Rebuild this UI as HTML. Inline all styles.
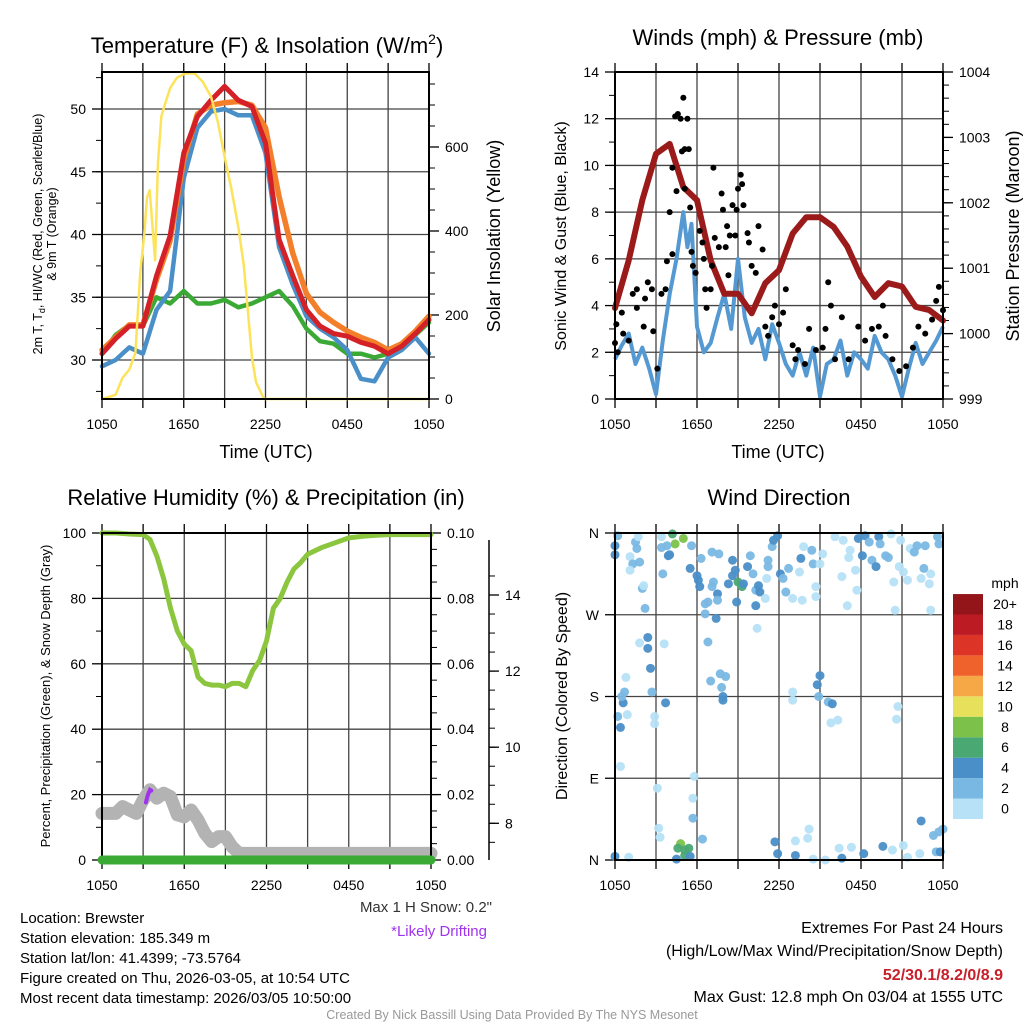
<!DOCTYPE html>
<html><head><meta charset="utf-8"><style>
html,body{margin:0;padding:0;background:#fff}
svg{display:block;font-family:"Liberation Sans",Arial,sans-serif}
</style></head><body>
<svg id="c" width="1024" height="1024" viewBox="0 0 1024 1024">
<rect width="1024" height="1024" fill="#fff"/>
<g id="g1"></g><g id="g2"></g><g id="g3"></g><g id="g4"></g>
<text x="267" y="53" font-size="22" text-anchor="middle">Temperature (F) &amp; Insolation (W/m<tspan font-size="14" dy="-9">2</tspan><tspan dy="9">)</tspan></text>
<text x="778" y="45" font-size="22" text-anchor="middle">Winds (mph) &amp; Pressure (mb)</text>
<text x="266" y="505" font-size="22" text-anchor="middle">Relative Humidity (%) &amp; Precipitation (in)</text>
<text x="779" y="505" font-size="22" text-anchor="middle">Wind Direction</text>
<text x="266" y="458" font-size="18" text-anchor="middle">Time (UTC)</text>
<text x="778" y="458" font-size="18" text-anchor="middle">Time (UTC)</text>
<text transform="translate(42,234) rotate(-90)" font-size="12.5" text-anchor="middle">2m T, T<tspan font-size="9" dy="3">d</tspan><tspan dy="-3">, HI/WC (Red, Green, Scarlet/Blue)</tspan></text>
<text transform="translate(56,234) rotate(-90)" font-size="12.5" text-anchor="middle">&amp; 9m T (Orange)</text>
<text transform="translate(500,236) rotate(-90)" font-size="18" text-anchor="middle">Solar Insolation (Yellow)</text>
<text transform="translate(566,236) rotate(-90)" font-size="16" text-anchor="middle">Sonic Wind &amp; Gust (Blue, Black)</text>
<text transform="translate(1019,236) rotate(-90)" font-size="18" text-anchor="middle">Station Pressure (Maroon)</text>
<text transform="translate(50,696) rotate(-90)" font-size="13" text-anchor="middle">Percent, Precipitation (Green), &amp; Snow Depth (Gray)</text>
<text transform="translate(567,696) rotate(-90)" font-size="16" text-anchor="middle">Direction (Colored By Speed)</text>
<text x="1005" y="588" font-size="14" text-anchor="middle">mph</text>
<text x="492" y="912" font-size="15" fill="#333" text-anchor="end">Max 1 H Snow: 0.2"</text>
<text x="487" y="936" font-size="15" fill="#a033ee" text-anchor="end">*Likely Drifting</text>
<g font-size="15">
<text x="20" y="923">Location: Brewster</text>
<text x="20" y="943">Station elevation: 185.349 m</text>
<text x="20" y="963">Station lat/lon: 41.4399; -73.5764</text>
<text x="20" y="983">Figure created on Thu, 2026-03-05, at 10:54 UTC</text>
<text x="20" y="1003">Most recent data timestamp: 2026/03/05 10:50:00</text>
</g>
<g font-size="16" text-anchor="end">
<text x="1003" y="933">Extremes For Past 24 Hours</text>
<text x="1003" y="956">(High/Low/Max Wind/Precipitation/Snow Depth)</text>
<text x="1003" y="980" fill="#c8202a" font-weight="bold">52/30.1/8.2/0/8.9</text>
<text x="1003" y="1002">Max Gust: 12.8 mph On 03/04 at 1555 UTC</text>
</g>
<text x="512" y="1019" font-size="12.5" fill="#999" text-anchor="middle">Created By Nick Bassill Using Data Provided By The NYS Mesonet</text>
</svg>
<script>
// ---------- DATA ----------
const hours = [0,1,2,3,4,5,6,7,8,9,10,11,12,13,14,15,16,17,18,19,20,21,22,23,24];
const tempRed = [30.5,31.7,32.7,32.7,36.7,39.9,46.5,49.4,50.7,51.8,50.7,50.2,47.3,39.6,36.7,34,32.7,32.1,31.9,31.4,31.1,30.5,31.1,32.1,33.2];
const temp9m = [30.8,31.8,32.8,32.8,36.4,39.5,46,49.6,50.3,50.5,50.6,50.3,48.5,43,38.5,35.3,33.8,33,32.3,31.8,31.4,30.8,31.3,32.3,33.5];
const windChill = [29.5,30,31,30.5,34,35.5,44.5,48.5,49.8,50,49.5,49.5,46.5,39,36,33.5,32.5,31.8,30.8,28.5,28.3,30.2,30.8,31.8,30.5];
const dewPoint = [30.5,32,32.8,32.7,35,34.5,35.5,34.5,34.5,34.8,34.2,34.5,35,35.5,34.3,32.5,31.5,31.3,30.5,30.5,30.2,30.5,31,32,33];
const solarHours = [0,1,1.5,2,2.45,2.8,3.1,3.3,3.5,3.9,4.1,4.35,4.6,5,5.5,6.1,6.8,7.4,8,8.5,9,9.5,10,10.4,10.7,11,11.3,11.9,24];
const solar = [0,10,50,70,110,300,390,480,497,330,560,672,700,740,765,775,775,755,720,660,577,500,410,320,212,100,40,0,0];
const windHours = [0,0.5,1,1.5,2,2.5,3,3.5,4,4.5,5,5.3,5.6,6,6.5,7,7.5,8,8.5,9,9.5,10,10.5,11,11.5,12,12.5,13,13.5,14,14.5,15,15.5,16,16.5,17,17.5,18,18.5,19,19.5,20,20.5,21,21.5,22,22.5,23,23.5,24];
const windSpeed = [1.7,2.3,2.8,1.5,2.2,1.3,0.2,2.5,4.5,6.0,8.0,6.5,7.5,3.1,2.0,2.4,3.5,4.5,3.0,6.0,3.5,2.4,3.0,1.7,3.2,2.4,1.5,1.0,2.0,1.0,2.2,0.1,1.5,1.7,2.5,1.0,2.0,1.7,1.3,2.7,2.0,1.7,1.0,0.1,1.3,2.4,1.5,2.0,2.5,3.1];
const pressure = [1000.39,1001.12,1002.04,1002.75,1002.9,1002.24,1002.04,1001.12,1000.61,1000.61,1000.31,1000.77,1000.97,1001.53,1001.78,1001.78,1001.63,1001.33,1000.87,1000.56,1000.77,1000.72,1000.41,1000.36,1000.2];
const gustHours = [0.0,0.1,0.2,0.5,0.6,1.0,1.3,1.6,1.6,2.1,2.2,2.4,2.7,2.8,3.1,3.4,3.7,3.8,4.0,4.2,4.2,4.4,4.5,4.6,4.8,4.9,5.0,5.1,5.3,5.4,5.1,5.5,5.6,5.7,5.9,6.2,6.4,6.5,6.6,6.7,7.0,7.1,7.2,7.3,7.6,7.8,7.9,8.1,8.2,8.3,8.4,8.6,8.8,8.9,9.0,9.2,9.3,9.4,9.7,9.8,10.0,10.3,10.5,10.8,11.0,11.2,11.5,11.7,12.0,12.3,12.5,13.0,13.2,13.4,13.9,14.2,14.7,15.2,15.4,15.6,15.8,16.1,16.6,17.1,17.8,18.3,18.8,19.3,19.6,19.8,20.3,20.8,21.3,21.8,22.2,22.7,23.2,23.5,23.7,24.0];
const gustSpeed = [2.4,3.2,2.0,3.7,2.8,2.5,4.5,4.7,3.9,3.1,4.3,5.0,4.7,2.9,1.3,4.5,4.7,5.9,8.0,6.2,9.9,12.1,8.9,12.2,12.0,10.6,12.9,10.7,12.0,10.7,9.0,8.2,6.3,5.7,5.4,7.2,6.7,6.0,4.7,3.9,4.7,5.7,9.9,6.9,6.5,8.8,8.1,6.5,7.4,5.3,7.0,8.3,7.0,8.1,9.0,9.6,9.2,8.3,7.1,6.7,5.7,5.4,7.4,6.4,3.1,2.7,3.5,4.0,3.2,3.7,4.7,2.3,1.7,2.1,1.5,3.0,2.1,2.2,3.0,5.0,4.0,1.7,3.5,1.7,3.1,2.5,3.0,3.1,4.0,2.7,1.7,1.2,1.4,2.2,3.1,2.8,3.4,4.2,4.8,3.8];
const rhHours = [0,1,2,3,3.5,4,4.5,5,5.5,6,6.5,7,7.5,8,8.5,9,9.5,10,10.5,11,11.5,12,12.5,13,13.5,14,14.5,15,16,17,18,19,20,21,22,23,24];
const rh = [100,100,99.7,99.5,98,93,86,77,70,66,64,56,54,53.5,53.5,53,54,54,53,58,61,67,77,80,85,89,91,93.5,95.5,97,98.5,99,99.3,99.5,99.5,99.5,99.5];
const precipHours = [0,24];
const precip = [0,0];
const snowHours = [0,1,1.5,2,2.5,3,3.5,4,4.5,5,5.5,6,6.5,7,7.5,8,8.5,9,9.5,10,12,16,20,24];
const snowDepth = [8.26,8.26,8.44,8.35,8.26,8.61,8.88,8.66,8.79,8.70,8.22,8.17,8.35,8.09,7.74,7.52,7.65,7.65,7.38,7.21,7.21,7.21,7.21,7.21];
const driftHours = [3.2,3.35,3.5,3.6];
const driftDepth = [8.55,8.75,8.88,8.86];
const dirHours = [0.2,0,0,1.1,1.3,1.5,1.6,1.1,1.8,1.7,2.0,2.1,2.2,3.4,3.4,3.8,3.9,4.0,3.5,4.2,4.4,5.0,5.6,5.5,6.0,6.1,6.2,6.3,6.6,6.8,7.1,7.1,7.2,7.5,7.5,7.6,7.4,6.6,8.3,8.6,8.8,8.6,9.0,9.3,9.4,8.9,9.7,9.9,10.1,10.3,10.5,10.6,10.3,11.0,11.1,11.2,11.2,11.5,11.6,11.9,12.1,12.3,12.5,12.7,13.0,13.5,13.7,13.6,13.8,14.4,14.5,14.7,14.7,15.2,15.0,16.1,16.7,16.6,17.1,17.2,17.0,17.6,17.7,17.8,18.1,18.3,18.6,18.8,19.1,19.3,19.4,19.8,20.0,20.2,20.4,20.5,20.8,20.9,21.1,21.4,21.6,21.9,22.1,22.4,22.6,22.7,23.0,23.1,23.1,23.7,23.6,0,1.0,0.4,0.2,0.4,0.9,0.6,0.7,0.5,0.8,2.6,2.7,2.4,2.4,1.8,2.9,2.9,3.7,3.6,3.1,3.2,3.3,4.8,4.6,5.1,5.4,5.1,4.5,5.5,5.7,5.7,5.8,6.4,6.8,7.0,7.7,8.1,7.8,7.9,7.9,11.9,11.7,13.2,13.2,14.2,14.1,14.5,15.4,16.6,16.4,17.3,18.2,19.6,20.3,21.1,21.4,22.3,22.4,23.3,23.7,24.0,23.5,23.8,15.0,14.8,14.9,15.6,15.9,15.8,16.3,13.0,13.0,20.7,20.6,10.4];
const dirDeg = [357,346,336,334,326,350,343,319,328,356,299,302,277,356,344,346,335,336,315,359,348,354,346,321,313,308,301,332,282,284,339,301,306,293,286,337,266,271,304,313,319,330,306,301,304,284,323,335,315,297,302,295,280,288,310,330,323,345,352,357,315,310,295,321,288,317,286,332,345,341,326,301,290,337,326,356,352,312,333,341,280,319,297,354,335,357,350,330,323,356,348,335,333,359,306,275,323,352,317,308,343,339,346,310,321,346,304,275,315,348,356,4,3,103,158,146,160,173,185,180,201,211,185,233,245,239,158,150,173,238,79,35,25,18,13,11,13,5,1,4,46,68,92,23,240,197,205,202,190,180,176,7,20,5,21,34,24,1,0,2,13,14,7,15,11,16,3,7,43,27,31,34,9,9,203,193,180,174,172,151,154,185,176,169,155,255];
const dirSpeed = [3,5,5,1,3,3,3,1,3,1,3,1,3,1,3,3,5,5,3,7,9,9,3,5,5,5,5,3,3,3,3,3,3,5,3,3,5,3,5,5,5,5,7,7,5,5,5,3,3,3,5,5,5,1,1,3,3,3,5,5,5,3,3,3,1,1,1,5,1,3,3,1,1,1,1,1,1,1,1,1,1,1,1,5,5,5,3,3,5,5,3,3,3,1,1,1,1,1,1,1,1,3,3,1,3,3,1,1,1,3,3,5,1,1,3,5,1,5,3,3,1,5,3,5,5,1,1,1,5,1,1,1,1,9,7,7,7,7,5,5,3,1,1,3,3,3,3,3,3,5,5,5,5,5,1,1,1,1,1,5,1,1,5,5,1,1,1,1,5,3,3,3,3,5,5,5,3,3,5,1,1,1,1,1,1,1];
const tempTicks = [30,35,40,45,50];
const solarTicks = [0,200,400,600];
const timeLabels = ["1050","1650","2250","0450","1050"];
const windTicks = [0,2,4,6,8,10,12,14];
const pressTicks = [999,1000,1001,1002,1003,1004];
const rhTicks = [0,20,40,60,80,100];
const precipTicks = ["0.00","0.02","0.04","0.06","0.08","0.10"];
const snowTicks = [8,10,12,14];
const dirLabels = ["N","E","S","W","N"];
const cbLabels = ["0","2","4","6","8","10","12","14","16","18","20+"];
const cbColors = ["#b6e1f7","#7ab8e4","#4a8fc8","#4aa872","#7cc24a","#e6e05a","#f5a845","#f0622b","#dd3428","#bc1b24","#941519"];

// ---------- HELPERS ----------
const NS="http://www.w3.org/2000/svg";
function mk(tag,parent,attrs){const e=document.createElementNS(NS,tag);for(const k in attrs)e.setAttribute(k,attrs[k]);parent.appendChild(e);return e;}
function path(xs,ys,sx,sy){return xs.map((v,i)=>(i?"L":"M")+sx(v).toFixed(1)+","+sy(ys[i]).toFixed(1)).join("");}
function speedColor(s){if(s===undefined||isNaN(s))s=1;let i=Math.max(0,Math.min(10,Math.floor(s/2)));return cbColors[i];}

const P1={l:102,r:429,t:72,b:399}, P2={l:615,r:943,t:72,b:399}, P3={l:102,r:431,t:533,b:860}, P4={l:615,r:943,t:533,b:860};
function xs(P){return t=>P.l+t*(P.r-P.l)/24;}
function lin(d0,d1,p0,p1){return v=>p0+(v-d0)*(p1-p0)/(d1-d0);}

function frame(g,P,hl){
  for(let i=1;i<8;i++){const x=P.l+i*(P.r-P.l)/8;
    const gl=mk("line",g,{x1:x,x2:x,y1:P.t,y2:P.b,stroke:"#444","stroke-width":1.3});
    
    }
  hl.forEach(y=>{const gl=mk("line",g,{x1:P.l,x2:P.r,y1:y,y2:y,stroke:"#444","stroke-width":1.3});
    
    });
  for(let i=0;i<=8;i++){const x=P.l+i*(P.r-P.l)/8;
    mk("line",g,{x1:x,x2:x,y1:P.b,y2:P.b+9,stroke:"#000","stroke-width":1.3});
    mk("line",g,{x1:x,x2:x,y1:P.t-9,y2:P.t,stroke:"#000","stroke-width":1.3});}
  timeLabels.forEach((s,i)=>{const t=mk("text",g,{x:P.l+i*(P.r-P.l)/4,y:P.b+30,"font-size":14,"text-anchor":"middle"});t.textContent=s;
    
    });
}
function border(g,P){const r=mk("rect",g,{x:P.l,y:P.t,width:P.r-P.l,height:P.b-P.t,fill:"none",stroke:"#000","stroke-width":2});
  
  }
function yTicks(g,x,side,vals,sy,labels,minor){
  minor.forEach(v=>mk("line",g,{x1:x,x2:x+side*6,y1:sy(v),y2:sy(v),stroke:"#000","stroke-width":1}));
  vals.forEach((v,i)=>{mk("line",g,{x1:x,x2:x+side*10,y1:sy(v),y2:sy(v),stroke:"#000","stroke-width":1.3});
    const t=mk("text",g,{x:x+side*16,y:sy(v)+5,"font-size":14,"text-anchor":side<0?"end":"start"});t.textContent=labels[i];
    
    });
}
function range(a,b,s){const o=[];for(let v=a;v<=b+1e-9;v+=s)o.push(+v.toFixed(3));return o;}

// ---------- PANEL 1 ----------
(function(){const g=document.getElementById("g1");const X=xs(P1);
 const Y=lin(30,50,360,109), S=lin(0,600,399,147);
 frame(g,P1,tempTicks.map(Y));
 yTicks(g,P1.l,-1,tempTicks,Y,tempTicks.map(String),range(27.5,52.5,2.5));
 yTicks(g,P1.r,1,solarTicks,S,solarTicks.map(String),range(50,750,50));
 const defs=[[dewPoint,"#3aaa35",4.5,"dewpoint-line"],[windChill,"#4a8fc8",4.5,"windchill-line"],[temp9m,"#f47f2a",5.5,"temp-9m-line"],[tempRed,"#d42027",5,"temp-2m-line"]];
 defs.forEach(d=>{const p=mk("path",g,{d:path(hours,d[0],X,Y),fill:"none",stroke:d[1],"stroke-width":d[2],"stroke-linejoin":"round","stroke-linecap":"round"});
   
   });
 const p=mk("path",g,{d:path(solarHours,solar,X,S),fill:"none",stroke:"#fde35a","stroke-width":2.5,"stroke-linejoin":"round"});
 
 
 border(g,P1);
})();

// ---------- PANEL 2 ----------
(function(){const g=document.getElementById("g2");const X=xs(P2);
 const Y=lin(0,14,399,72), PR=lin(999,1004,399,72);
 frame(g,P2,windTicks.slice(1,7).map(Y));
 yTicks(g,P2.l,-1,windTicks,Y,windTicks.map(String),range(1,13,1));
 yTicks(g,P2.r,1,pressTicks,PR,pressTicks.map(String),range(999.2,1003.8,0.2));
 let p=mk("path",g,{d:path(windHours,windSpeed,X,Y),fill:"none",stroke:"#5599d2","stroke-width":4,"stroke-linejoin":"round"});
 
 
 p=mk("path",g,{d:path(hours,pressure,X,PR),fill:"none",stroke:"#9b1a1a","stroke-width":6,"stroke-linejoin":"round","stroke-linecap":"round"});
 
 
 gustHours.forEach((t,i)=>{const c=mk("circle",g,{cx:X(t),cy:Y(gustSpeed[i]),r:3,fill:"#000"});
   
   });
 border(g,P2);
})();

// ---------- PANEL 3 ----------
(function(){const g=document.getElementById("g3");const X=xs(P3);
 const Y=lin(0,100,860,533), PC=lin(0,0.1,860,533), SD=lin(8,14,823.3,595);
 frame(g,P3,rhTicks.slice(1,5).map(Y));
 yTicks(g,P3.l,-1,rhTicks,Y,rhTicks.map(String),range(10,90,20));
 yTicks(g,P3.r,1,[0,0.02,0.04,0.06,0.08,0.1],PC,precipTicks,range(0.005,0.095,0.005));
 mk("line",g,{x1:489,x2:489,y1:540,y2:860,stroke:"#000","stroke-width":1.5});
 yTicks(g,489,1,snowTicks,SD,snowTicks.map(String),range(7.5,14.5,0.5));
 let p=mk("path",g,{d:path(snowHours,snowDepth,X,SD),fill:"none",stroke:"#b3b3b3","stroke-width":13,"stroke-linejoin":"round","stroke-linecap":"round"});
 
 
 p=mk("path",g,{d:path(driftHours,driftDepth,X,SD),fill:"none",stroke:"#a033ee","stroke-width":4,"stroke-linecap":"round"});
 
 
 p=mk("path",g,{d:path(rhHours,rh,X,Y),fill:"none",stroke:"#8cc63f","stroke-width":5,"stroke-linejoin":"round","stroke-linecap":"round"});
 
 
 border(g,P3);
 p=mk("path",g,{d:path(precipHours,precip,X,PC),fill:"none",stroke:"#3aaa35","stroke-width":9,"stroke-linecap":"round"});
 
 
})();

// ---------- PANEL 4 ----------
(function(){const g=document.getElementById("g4");const X=xs(P4);
 const Y=lin(0,360,860,533);
 frame(g,P4,[90,180,270].map(Y));
 yTicks(g,P4.l,-1,[0,90,180,270,360],Y,dirLabels,[]);
 dirHours.forEach((t,i)=>{if(dirDeg[i]===undefined)return;
   const c=mk("circle",g,{cx:X(t),cy:Y(dirDeg[i]),r:4.5,fill:speedColor(dirSpeed[i]),"fill-opacity":0.95});
   
   });
 border(g,P4);
 cbColors.forEach((col,i)=>{const y=819-(i+1)*20.45;
   const r=mk("rect",g,{x:953,y:y,width:30,height:20.45,fill:col});
   
   
   const t=mk("text",g,{x:1005,y:y+15,"font-size":14,"text-anchor":"middle"});t.textContent=cbLabels[i];
   
   });
})();
</script>
</body></html>
